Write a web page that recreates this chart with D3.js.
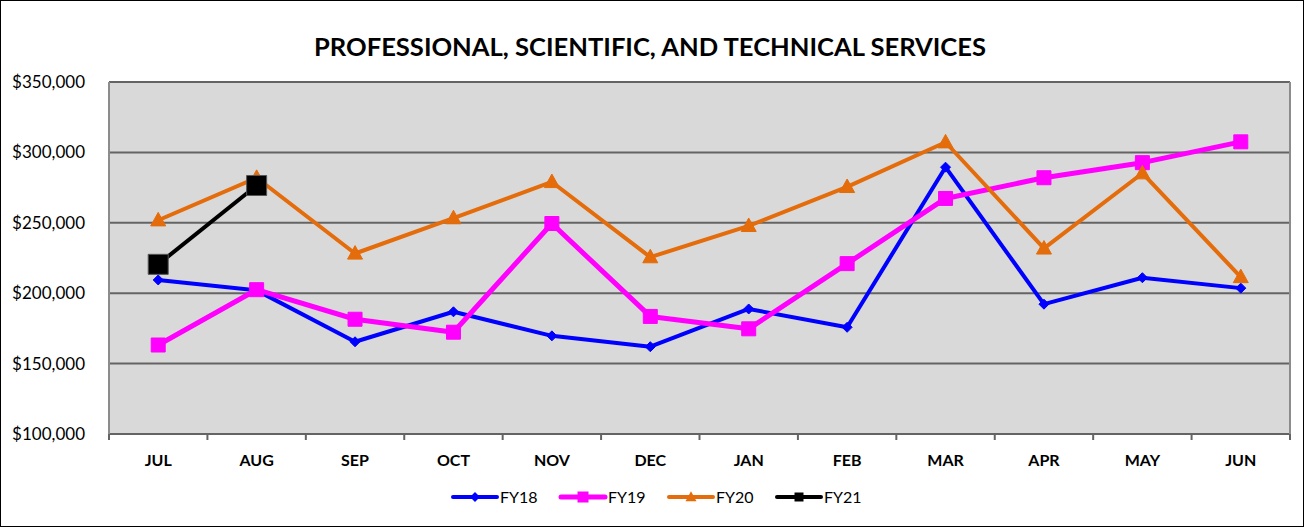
<!DOCTYPE html>
<html>
<head>
<meta charset="utf-8">
<script src="https://cdn.jsdelivr.net/npm/d3@7"></script>
<style>
  body { margin: 0; background: #fff; }
  svg { display: block; }
</style>
</head>
<body>
<svg id="chart" width="1304" height="527"></svg>
<script>
// Months of the fiscal year
var months = ["JUL", "AUG", "SEP", "OCT", "NOV", "DEC", "JAN", "FEB", "MAR", "APR", "MAY", "JUN"];

// Values
var fy18 = [209400, 202000, 165500, 186800, 169700, 162000, 188800, 175800, 289500, 192200, 211000, 203600];
var fy19 = [163200, 202500, 181500, 172300, 249500, 183500, 174700, 221000, 267300, 282000, 292700, 307500];
var fy20 = [251800, 282000, 228200, 253300, 279000, 225600, 247800, 275500, 307200, 231800, 285200, 211500];
var fy21 = [220500, 276500];

var yTicks = [100000, 150000, 200000, 250000, 300000, 350000];

var titleText = "PROFESSIONAL, SCIENTIFIC, AND TECHNICAL SERVICES";

var seriesList = [
  { name: "FY18", values: fy18, color: "#0000ff", width: 4, marker: "diamond", size: 10 },
  { name: "FY19", values: fy19, color: "#ff00ff", width: 5, marker: "square", size: 14 },
  { name: "FY20", values: fy20, color: "#e46c0a", width: 4, marker: "triangle", size: 15 },
  { name: "FY21", values: fy21, color: "#000000", width: 4, marker: "bigsquare", size: 20 }
];

var svg = d3.select("#chart");
var W = 1304, H = 527;
var plot = { left: 109, right: 1290, top: 82, bottom: 434 };

// outer border
svg.append("rect")
  .attr("x", 0.5).attr("y", 0.5)
  .attr("width", W - 1).attr("height", H - 1)
  .attr("fill", "#fff").attr("stroke", "#000").attr("stroke-width", 1);

var x = d3.scaleBand().domain(months).range([plot.left, plot.right]).padding(0);
var y = d3.scaleLinear().domain([100000, 350000]).range([plot.bottom, plot.top]);

// plot area
svg.append("rect")
  .attr("x", plot.left).attr("y", plot.top)
  .attr("width", plot.right - plot.left).attr("height", plot.bottom - plot.top)
  .attr("fill", "#d9d9d9");

// gridlines
svg.append("g")
  .selectAll("line")
  .data(yTicks)
  .enter()
  .append("line")
  .attr("x1", plot.left).attr("x2", plot.right)
  .attr("y1", function(d){ return y(d); })
  .attr("y2", function(d){ return y(d); })
  .attr("stroke", "#646464")
  .attr("stroke-width", 2);

// plot frame sides
svg.append("line")
  .attr("x1", plot.left).attr("x2", plot.left)
  .attr("y1", plot.top).attr("y2", plot.bottom)
  .attr("stroke", "#8c8c8c").attr("stroke-width", 2);
svg.append("line")
  .attr("x1", plot.right).attr("x2", plot.right)
  .attr("y1", plot.top).attr("y2", plot.bottom)
  .attr("stroke", "#8c8c8c").attr("stroke-width", 2);

// y axis labels
var yAxis = d3.axisLeft(y)
  .tickValues(yTicks)
  .tickSize(0)
  .tickPadding(24)
  .tickFormat(function(d){ return "$" + d3.format(",")(d); });
var yg = svg.append("g")
  .attr("transform", "translate(" + plot.left + ",0)")
  .call(yAxis);
yg.select(".domain").remove();
yg.selectAll("text")
  .attr("font-family", "Lato, 'Open Sans', sans-serif")
  .attr("font-size", 17)
  .attr("fill", "#000");

// x axis: ticks at band boundaries
var boundaries = months.map(function(m){ return x(m); }).concat([plot.right]);
svg.append("g")
  .selectAll("line")
  .data(boundaries)
  .enter()
  .append("line")
  .attr("x1", function(d){ return d; }).attr("x2", function(d){ return d; })
  .attr("y1", plot.bottom).attr("y2", plot.bottom + 6)
  .attr("stroke", "#646464").attr("stroke-width", 2);

svg.append("g")
  .selectAll("text")
  .data(months)
  .enter()
  .append("text")
  .attr("x", function(d){ return x(d) + x.bandwidth() / 2; })
  .attr("y", 466)
  .attr("text-anchor", "middle")
  .attr("font-family", "Lato, 'Open Sans', sans-serif")
  .attr("font-weight", "bold")
  .attr("font-size", 16)
  .text(function(d){ return d; });

// title
svg.append("text")
  .attr("x", 650).attr("y", 56)
  .attr("text-anchor", "middle")
  .attr("font-family", "Lato, 'Open Sans', sans-serif")
  .attr("font-weight", "bold")
  .attr("font-size", 24)
  .attr("textLength", 672)
  .attr("lengthAdjust", "spacingAndGlyphs")
  .text(titleText);

function markerPath(type, s){
  var h = s / 2;
  if (type === "diamond") return "M0," + (-h) + "L" + h + ",0L0," + h + "L" + (-h) + ",0Z";
  if (type === "triangle") return "M0," + (-h * 1.05) + "L" + h + "," + (h * 0.75) + "L" + (-h) + "," + (h * 0.75) + "Z";
  return "M" + (-h) + "," + (-h) + "H" + h + "V" + h + "H" + (-h) + "Z";
}

var cx = function(d, i){ return x(months[i]) + x.bandwidth() / 2; };

var line = d3.line()
  .x(cx)
  .y(function(d){ return y(d); });

seriesList.forEach(function(s){
  var g = svg.append("g");
  g.append("path")
    .attr("d", line(s.values))
    .attr("fill", "none")
    .attr("stroke", s.color)
    .attr("stroke-width", s.width)
    .attr("stroke-linejoin", "round");
  g.selectAll("path.mk")
    .data(s.values)
    .enter()
    .append("path")
    .attr("class", "mk")
    .attr("d", markerPath(s.marker, s.size))
    .attr("transform", function(d, i){ return "translate(" + cx(d, i) + "," + y(d) + ")"; })
    .attr("fill", s.color)
    .attr("stroke", s.marker === "bigsquare" ? "#555" : s.color)
    .attr("stroke-width", 1);
});

// legend
var legendX = [453, 561, 669, 777];
var legendY = 497;
var lg = svg.append("g");
seriesList.forEach(function(s, i){
  var g = lg.append("g").attr("transform", "translate(" + legendX[i] + "," + legendY + ")");
  g.append("line")
    .attr("x1", 0).attr("x2", 44)
    .attr("y1", 0).attr("y2", 0)
    .attr("stroke", s.color)
    .attr("stroke-width", s.width)
    .attr("stroke-linecap", "round");
  var ms = s.marker === "bigsquare" ? 9 : (s.marker === "diamond" ? 10 : 11);
  g.append("path")
    .attr("d", markerPath(s.marker, ms))
    .attr("transform", "translate(22,0)")
    .attr("fill", s.color);
  g.append("text")
    .attr("x", 47).attr("y", 6)
    .attr("font-family", "Lato, 'Open Sans', sans-serif")
    .attr("font-size", 16)
    .text(s.name);
});
</script>
</body>
</html>
